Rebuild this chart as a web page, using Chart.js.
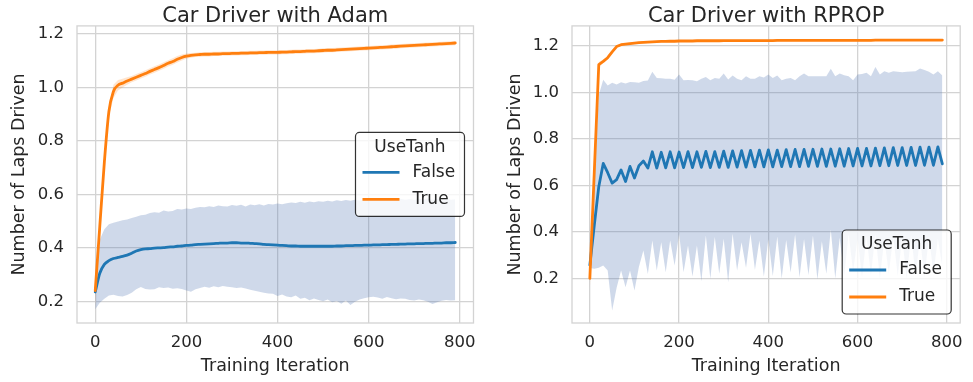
<!DOCTYPE html>
<html>
<head>
<meta charset="utf-8">
<script src="https://cdn.jsdelivr.net/npm/chart.js@4/dist/chart.umd.min.js"></script>
<style>
  html, body { margin: 0; padding: 0; background: #ffffff; }
  #wrap { position: relative; width: 973px; height: 382px; overflow: hidden; background: #fff; }
  canvas { position: absolute; top: 0; }
  #c1 { left: 0; }
  #c2 { left: 486px; }
</style>
</head>
<body>
<div id="wrap">
  <canvas id="c1" width="486" height="382"></canvas>
  <canvas id="c2" width="487" height="382"></canvas>
</div>
<script>
// ---------------- DATA ----------------
const iterations = [0,10,20,30,40,50,60,70,80,90,100,110,120,130,140,150,160,170,180,190,
  200,210,220,230,240,250,260,270,280,290,300,310,320,330,340,350,360,370,380,390,
  400,410,420,430,440,450,460,470,480,490,500,510,520,530,540,550,560,570,580,590,
  600,610,620,630,640,650,660,670,680,690,700,710,720,730,740,750,760,770,780,790];

const xTickValues = [0, 200, 400, 600, 800];
const yTickValues = [0.2, 0.4, 0.6, 0.8, 1.0, 1.2];
const legendTitle = 'UseTanh';
const seriesLabels = ['False', 'True'];
const chartTitles = ['Car Driver with Adam', 'Car Driver with RPROP'];
const xAxisLabel = 'Training Iteration';
const yAxisLabel = 'Number of Laps Driven';

// ---- Adam, UseTanh = False ----
const adamFalseMean = [0.235,0.305,0.338,0.352,0.360,0.364,0.368,0.373,0.380,0.388,0.393,0.396,0.397,0.399,0.400,0.401,0.403,0.404,0.406,0.407,
  0.409,0.410,0.412,0.413,0.414,0.415,0.416,0.417,0.418,0.418,0.419,0.419,0.418,0.418,0.417,0.416,0.415,0.413,0.412,0.411,
  0.410,0.409,0.408,0.407,0.407,0.406,0.406,0.406,0.406,0.406,0.406,0.406,0.406,0.407,0.407,0.408,0.408,0.409,0.409,0.410,
  0.410,0.411,0.411,0.412,0.412,0.413,0.413,0.414,0.414,0.415,0.415,0.416,0.416,0.417,0.417,0.418,0.418,0.419,0.419,0.420];
const adamFalseUpper = [0.30,0.43,0.47,0.488,0.494,0.499,0.503,0.506,0.512,0.516,0.522,0.524,0.530,0.533,0.531,0.540,0.536,0.538,0.545,0.543,
  0.547,0.545,0.550,0.553,0.552,0.556,0.553,0.558,0.556,0.555,0.560,0.557,0.561,0.555,0.562,0.559,0.563,0.558,0.564,0.562,
  0.566,0.563,0.567,0.570,0.568,0.572,0.569,0.573,0.571,0.574,0.572,0.576,0.573,0.578,0.575,0.579,0.576,0.580,0.577,0.581,
  0.578,0.582,0.579,0.583,0.580,0.585,0.581,0.584,0.580,0.583,0.579,0.584,0.581,0.585,0.580,0.583,0.579,0.584,0.580,0.582];
const adamFalseLower = [0.17,0.195,0.21,0.222,0.225,0.220,0.218,0.224,0.232,0.245,0.254,0.246,0.244,0.245,0.253,0.250,0.252,0.247,0.249,0.246,
  0.241,0.236,0.245,0.250,0.255,0.251,0.256,0.253,0.257,0.255,0.253,0.250,0.252,0.248,0.243,0.240,0.236,0.232,0.229,0.228,
  0.220,0.226,0.218,0.215,0.222,0.210,0.213,0.204,0.211,0.205,0.200,0.207,0.197,0.201,0.191,0.203,0.186,0.198,0.207,0.212,
  0.215,0.217,0.214,0.210,0.216,0.212,0.208,0.211,0.210,0.205,0.203,0.207,0.204,0.198,0.190,0.197,0.202,0.205,0.203,0.204];

// ---- Adam, UseTanh = True ----
const adamTrueMean = [0.24,0.48,0.72,0.91,0.985,1.008,1.016,1.024,1.031,1.038,1.045,1.052,1.060,1.067,1.074,1.082,1.090,1.097,1.105,1.112,
  1.117,1.120,1.122,1.123,1.124,1.124,1.125,1.125,1.126,1.126,1.127,1.127,1.128,1.128,1.129,1.129,1.130,1.130,1.131,1.131,
  1.131,1.132,1.132,1.133,1.134,1.134,1.135,1.136,1.136,1.137,1.138,1.139,1.139,1.140,1.141,1.142,1.143,1.144,1.145,1.146,
  1.147,1.148,1.149,1.150,1.151,1.152,1.153,1.154,1.155,1.156,1.157,1.158,1.159,1.160,1.161,1.162,1.163,1.164,1.165,1.166];
const adamTrueLower = [0.18,0.45,0.695,0.89,0.96,0.988,1.000,1.010,1.019,1.026,1.033,1.040,1.048,1.055,1.062,1.070,1.078,1.085,1.093,1.101,
  1.107,1.111,1.114,1.115,1.116,1.116,1.117,1.117,1.118,1.118,1.119,1.119,1.120,1.120,1.121,1.121,1.122,1.122,1.123,1.123,
  1.123,1.124,1.124,1.125,1.126,1.126,1.127,1.128,1.128,1.129,1.130,1.131,1.131,1.132,1.133,1.134,1.135,1.136,1.137,1.138,
  1.139,1.140,1.141,1.142,1.143,1.144,1.145,1.146,1.147,1.148,1.149,1.150,1.151,1.152,1.153,1.154,1.155,1.156,1.157,1.158];
const adamTrueUpper = [0.27,0.51,0.745,0.93,1.010,1.028,1.032,1.038,1.043,1.050,1.057,1.064,1.072,1.079,1.086,1.094,1.102,1.109,1.117,1.123,
  1.127,1.129,1.130,1.131,1.132,1.132,1.133,1.133,1.134,1.134,1.135,1.135,1.136,1.136,1.137,1.137,1.138,1.138,1.139,1.139,
  1.139,1.140,1.140,1.141,1.142,1.142,1.143,1.144,1.144,1.145,1.146,1.147,1.147,1.148,1.149,1.150,1.151,1.152,1.153,1.154,
  1.155,1.156,1.157,1.158,1.159,1.160,1.161,1.162,1.163,1.164,1.165,1.166,1.167,1.168,1.169,1.170,1.171,1.172,1.173,1.174];

// ---- RPROP, UseTanh = False ----
const rpropFalseMean = [0.257,0.43,0.595,0.695,0.655,0.610,0.625,0.667,0.617,0.682,0.632,0.685,0.705,0.675,0.745,0.675,0.743,0.676,0.745,0.676,
  0.744,0.677,0.746,0.677,0.745,0.678,0.747,0.677,0.746,0.678,0.748,0.678,0.749,0.679,0.750,0.679,0.751,0.680,0.752,0.680,
  0.753,0.680,0.752,0.681,0.754,0.681,0.755,0.681,0.755,0.682,0.756,0.682,0.757,0.682,0.757,0.683,0.758,0.683,0.759,0.684,
  0.760,0.684,0.760,0.684,0.761,0.685,0.762,0.685,0.763,0.686,0.763,0.686,0.764,0.686,0.765,0.687,0.765,0.687,0.766,0.693];
const rpropFalseUpper = [0.27,0.62,0.99,1.055,1.030,1.042,1.035,1.044,1.039,1.046,1.044,1.042,1.050,1.052,1.090,1.063,1.062,1.060,1.059,1.055,
  1.078,1.053,1.054,1.053,1.049,1.060,1.067,1.053,1.063,1.060,1.082,1.056,1.073,1.060,1.053,1.070,1.060,1.059,1.070,1.065,
  1.078,1.063,1.073,1.053,1.060,1.063,1.053,1.070,1.082,1.070,1.070,1.070,1.070,1.070,1.102,1.070,1.082,1.075,1.070,1.053,
  1.078,1.080,1.085,1.070,1.110,1.078,1.092,1.085,1.092,1.090,1.088,1.090,1.091,1.092,1.104,1.097,1.090,1.078,1.092,1.073];
const rpropFalseLower = [0.245,0.242,0.246,0.256,0.234,0.062,0.160,0.234,0.162,0.234,0.148,0.250,0.320,0.219,0.363,0.234,0.356,0.227,0.363,0.256,
  0.392,0.227,0.342,0.208,0.342,0.188,0.385,0.198,0.378,0.220,0.371,0.183,0.392,0.234,0.356,0.246,0.392,0.237,0.363,0.208,
  0.370,0.210,0.380,0.200,0.365,0.225,0.390,0.205,0.370,0.215,0.385,0.195,0.360,0.220,0.410,0.200,0.375,0.210,0.390,0.230,
  0.370,0.205,0.380,0.215,0.390,0.200,0.370,0.220,0.380,0.210,0.375,0.200,0.385,0.215,0.370,0.205,0.380,0.220,0.370,0.250];

// ---- RPROP, UseTanh = True ----
const rpropTrueMean = [0.20,0.66,1.12,1.134,1.150,1.175,1.198,1.206,1.209,1.211,1.213,1.215,1.216,1.217,1.218,1.219,1.220,1.220,1.221,1.221,
  1.222,1.222,1.222,1.222,1.223,1.223,1.223,1.223,1.223,1.223,1.224,1.224,1.224,1.224,1.224,1.224,1.224,1.224,1.224,1.224,
  1.224,1.224,1.225,1.225,1.225,1.225,1.225,1.225,1.225,1.225,1.225,1.225,1.225,1.225,1.225,1.225,1.225,1.225,1.225,1.225,
  1.225,1.225,1.225,1.225,1.226,1.226,1.226,1.226,1.226,1.226,1.226,1.226,1.226,1.226,1.226,1.226,1.226,1.226,1.226,1.226];
const rpropTrueLower = [0.15,0.62,1.108,1.127,1.143,1.168,1.193,1.202,1.205,1.207,1.209,1.211,1.212,1.213,1.214,1.215,1.216,1.216,1.217,1.217,
  1.218,1.218,1.218,1.218,1.219,1.219,1.219,1.219,1.219,1.219,1.220,1.220,1.220,1.220,1.220,1.220,1.220,1.220,1.220,1.220,
  1.220,1.220,1.221,1.221,1.221,1.221,1.221,1.221,1.221,1.221,1.221,1.221,1.221,1.221,1.221,1.221,1.221,1.221,1.221,1.221,
  1.221,1.221,1.221,1.221,1.222,1.222,1.222,1.222,1.222,1.222,1.222,1.222,1.222,1.222,1.222,1.222,1.222,1.222,1.222,1.222];
const rpropTrueUpper = [0.25,0.70,1.132,1.141,1.157,1.182,1.203,1.210,1.213,1.215,1.217,1.219,1.220,1.221,1.222,1.223,1.224,1.224,1.225,1.225,
  1.226,1.226,1.226,1.226,1.227,1.227,1.227,1.227,1.227,1.227,1.228,1.228,1.228,1.228,1.228,1.228,1.228,1.228,1.228,1.228,
  1.228,1.228,1.229,1.229,1.229,1.229,1.229,1.229,1.229,1.229,1.229,1.229,1.229,1.229,1.229,1.229,1.229,1.229,1.229,1.229,
  1.229,1.229,1.229,1.229,1.230,1.230,1.230,1.230,1.230,1.230,1.230,1.230,1.230,1.230,1.230,1.230,1.230,1.230,1.230,1.230];

// ---------------- STYLE ----------------
const FONT = '"DejaVu Sans", "Liberation Sans", sans-serif';
const TEXT = '#262626';
const GRID = '#d3d3d3';
const BLUE = '#1f77b4';
const ORANGE = '#ff7f0e';
const BLUE_BAND = 'rgba(76,114,176,0.27)';
const ORANGE_BAND = 'rgba(255,127,14,0.2)';

function pts(vals) { return iterations.map((it, i) => ({ x: it, y: vals[i] })); }

const framePlugin = {
  id: 'frame',
  beforeDatasetsDraw(chart) {
    const a = chart.chartArea, ctx = chart.ctx;
    ctx.save();
    ctx.strokeStyle = GRID;
    ctx.lineWidth = 1.3;
    ctx.strokeRect(a.left, a.top, a.right - a.left, a.bottom - a.top);
    ctx.restore();
  }
};

const legendPlugin = {
  id: 'boxLegend',
  afterDatasetsDraw(chart, args, opts) {
    const ctx = chart.ctx, a = chart.chartArea;
    const w = 109, h = 84, r = 4;
    const x = a.right - 9 - w;
    const y = opts.loc === 'center right' ? (a.top + a.bottom) / 2 - h / 2 : a.bottom - 9 - h;
    ctx.save();
    ctx.beginPath();
    ctx.moveTo(x + r, y);
    ctx.arcTo(x + w, y, x + w, y + h, r);
    ctx.arcTo(x + w, y + h, x, y + h, r);
    ctx.arcTo(x, y + h, x, y, r);
    ctx.arcTo(x, y, x + w, y, r);
    ctx.closePath();
    ctx.fillStyle = 'rgba(255,255,255,0.8)';
    ctx.fill();
    ctx.strokeStyle = 'rgba(0,0,0,0.8)';
    ctx.lineWidth = 1.2;
    ctx.stroke();
    ctx.font = '17px ' + FONT;
    ctx.fillStyle = TEXT;
    ctx.textBaseline = 'middle';
    ctx.textAlign = 'center';
    ctx.fillText(legendTitle, x + w / 2, y + 15);
    const entries = chart.data.datasets.filter(d => d.legendEntry);
    entries.forEach((d, i) => {
      const yy = y + 40 + 27 * i;
      ctx.strokeStyle = d.borderColor;
      ctx.lineWidth = 2.8;
      ctx.beginPath();
      ctx.moveTo(x + 7, yy);
      ctx.lineTo(x + 44, yy);
      ctx.stroke();
      ctx.textAlign = 'left';
      ctx.fillStyle = TEXT;
      ctx.fillText(d.label, x + 57, yy);
    });
    ctx.restore();
  }
};

function buildChart(canvasId, title, falseMean, falseLow, falseUp, trueMean, trueLow, trueUp, yMin, yMax, yAxisWidth, padRight, yTitlePad, legendLoc, interp) {
  const datasets = [
    { label: 'bandFalseLow', data: pts(falseLow), borderWidth: 0, pointRadius: 0, fill: false, order: 4, backgroundColor: BLUE_BAND },
    { label: 'bandFalseUp', data: pts(falseUp), borderWidth: 0, pointRadius: 0, fill: '-1', order: 4, backgroundColor: BLUE_BAND },
    { label: 'bandTrueLow', data: pts(trueLow), borderWidth: 0, pointRadius: 0, fill: false, order: 3, backgroundColor: ORANGE_BAND },
    { label: 'bandTrueUp', data: pts(trueUp), borderWidth: 0, pointRadius: 0, fill: '-1', order: 3, backgroundColor: ORANGE_BAND },
    { label: seriesLabels[0], legendEntry: true, data: pts(falseMean), borderColor: BLUE, borderWidth: 2.8, pointRadius: 0, fill: false, order: 1, cubicInterpolationMode: interp, borderJoinStyle: 'round', borderCapStyle: 'round' },
    { label: seriesLabels[1], legendEntry: true, data: pts(trueMean), borderColor: ORANGE, borderWidth: 2.8, pointRadius: 0, fill: false, order: 0, cubicInterpolationMode: interp, borderJoinStyle: 'round', borderCapStyle: 'round' }
  ];
  return new Chart(document.getElementById(canvasId), {
    type: 'line',
    data: { datasets },
    options: {
      responsive: false,
      animation: false,
      devicePixelRatio: 1,
      layout: { padding: { left: 0, right: padRight, top: 0, bottom: 0 } },
      plugins: {
        legend: { display: false },
        tooltip: { enabled: false },
        title: {
          display: true, text: title, color: TEXT, fullSize: false,
          font: { family: FONT, size: 21, weight: 'normal', lineHeight: 0.9 },
          padding: { top: 7, bottom: 0 }
        },
        boxLegend: { loc: legendLoc }
      },
      scales: {
        x: {
          type: 'linear', min: -40, max: 830,
          afterBuildTicks: s => { s.ticks = xTickValues.map(v => ({ value: v })); },
          afterFit: s => { s.height = 59; },
          grid: { color: GRID, lineWidth: 1.3, drawTicks: false },
          border: { display: false },
          ticks: { color: TEXT, font: { family: FONT, size: 16.5 }, padding: 10, maxRotation: 0, callback: v => String(v) },
          title: { display: true, text: xAxisLabel, color: TEXT, font: { family: FONT, size: 17.5 }, padding: { top: 0, bottom: 5 } }
        },
        y: {
          type: 'linear', min: yMin, max: yMax,
          afterBuildTicks: s => { s.ticks = yTickValues.map(v => ({ value: v })); },
          afterFit: s => { s.width = yAxisWidth; },
          grid: { color: GRID, lineWidth: 1.3, drawTicks: false },
          border: { display: false },
          ticks: { color: TEXT, font: { family: FONT, size: 16.5 }, padding: 13, callback: v => Number(v).toFixed(1) },
          title: { display: true, text: yAxisLabel, color: TEXT, font: { family: FONT, size: 17.5 }, padding: { top: yTitlePad, bottom: 0 } }
        }
      }
    },
    plugins: [framePlugin, legendPlugin]
  });
}

buildChart('c1', chartTitles[0], adamFalseMean, adamFalseLower, adamFalseUpper, adamTrueMean, adamTrueLower, adamTrueUpper,
  0.119, 1.230, 77, 12, 9, 'center right', 'monotone');
buildChart('c2', chartTitles[1], rpropFalseMean, rpropFalseLower, rpropFalseUpper, rpropTrueMean, rpropTrueLower, rpropTrueUpper,
  0.008, 1.287, 86, 3, 19, 'lower right', 'default');
</script>
</body>
</html>
